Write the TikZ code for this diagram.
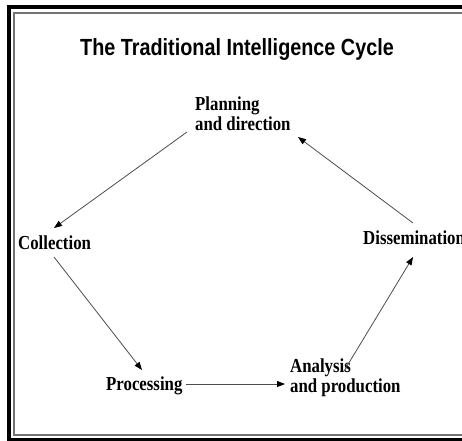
\documentclass[tikz,border=0pt]{standalone}
\usepackage{fontspec}
\setmainfont{Liberation Serif}
\newfontfamily\titlefont{Liberation Sans}
\usetikzlibrary{arrows.meta,calc}
\newcommand{\stretchy}[1]{\scalebox{1}[1.18]{#1}}
\begin{document}
\begin{tikzpicture}[x=1pt,y=-1pt,
  lbl/.style={anchor=base west,inner sep=0pt,align=left,font=\fontsize{16.8}{20}\selectfont\bfseries},
  flow/.style={draw=black!70,line width=0.8pt,-{Triangle[length=8pt,width=6pt,color=black]}}]
\useasboundingbox (0,0) rectangle (462,440);
\clip (0,0) rectangle (462,440);
\draw[line width=4pt] (9,7) rectangle (480,439.5);
\draw[line width=2pt,black!55] (14,13) rectangle (480,435);

\node[anchor=base,inner sep=0pt,font=\titlefont\bfseries\fontsize{19.8}{24}\selectfont] (title) at (237,55) {\stretchy{The Traditional Intelligence Cycle}};

\node[lbl] (plan) at (195,130) {\stretchy{Planning}\\\stretchy{and direction}};
\node[lbl] (coll) at (18,249) {\stretchy{Collection}};
\node[lbl] (proc) at (106,390) {\stretchy{Processing}};
\node[lbl] (anal) at (290,392) {\stretchy{Analysis}\\\stretchy{and production}};
\node[lbl] (diss) at (363,244) {\stretchy{Dissemination}};

\draw[flow] ($(plan.base west)+(-8,2)$) -- ($(coll.base west)+(36,-21)$);
\draw[flow] ($(coll.base west)+(36,8)$) -- ($(proc.base west)+(36,-20)$);
\draw[flow] ($(proc.base west)+(80,-6)$) -- ($(anal.base west)+(-5,-8)$);
\draw[flow] ($(anal.base west)+(54,-21)$) -- ($(diss.base west)+(50,13)$);
\draw[flow] ($(diss.base west)+(50,-21)$) -- ($(plan.base west)+(103,7)$);
\end{tikzpicture}
\end{document}
